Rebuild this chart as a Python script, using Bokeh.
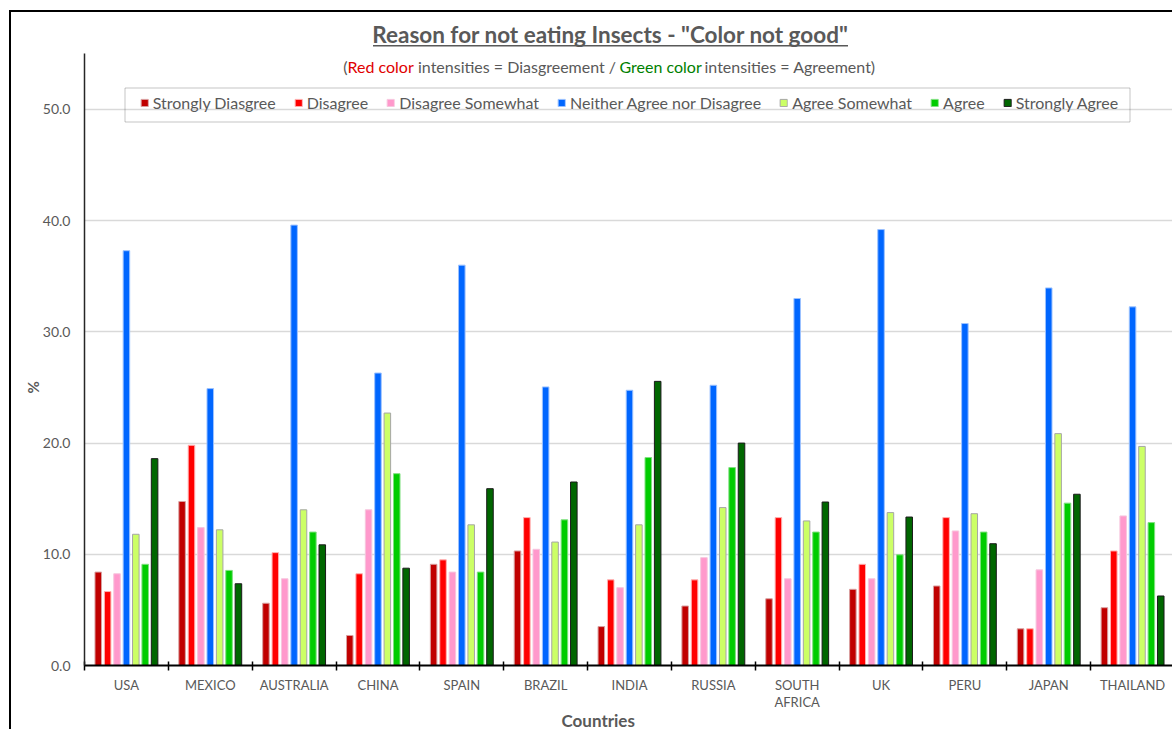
from bokeh.plotting import figure
from bokeh.models import (ColumnDataSource, Range1d, FixedTicker, NumeralTickFormatter,
                          Legend, LegendItem, Label, BoxAnnotation, Title)
from bokeh.transform import dodge
from bokeh.embed import file_html
from bokeh.resources import INLINE

# ---- data (% of respondents) ----
countries = ["USA", "MEXICO", "AUSTRALIA", "CHINA", "SPAIN", "BRAZIL", "INDIA",
             "RUSSIA", "SOUTH AFRICA", "UK", "PERU", "JAPAN", "THAILAND"]
responses = ["Strongly Diasgree", "Disagree", "Disagree Somewhat",
             "Neither Agree nor Disagree", "Agree Somewhat", "Agree", "Strongly Agree"]

strongly_disagree = [8.4, 14.75, 5.6, 2.7, 9.1, 10.3, 3.5, 5.35, 6.0, 6.85, 7.15, 3.3, 5.2]
disagree = [6.65, 19.8, 10.15, 8.25, 9.5, 13.3, 7.7, 7.7, 13.3, 9.1, 13.3, 3.3, 10.3]
disagree_somewhat = [8.25, 12.4, 7.8, 14.0, 8.4, 10.45, 7.0, 9.7, 7.8, 7.8, 12.1, 8.6, 13.45]
neither = [37.3, 24.9, 39.6, 26.3, 36.0, 25.05, 24.75, 25.2, 33.0, 39.2, 30.75, 33.95, 32.25]
agree_somewhat = [11.8, 12.2, 14.0, 22.7, 12.65, 11.1, 12.65, 14.2, 13.0, 13.75, 13.65, 20.85, 19.7]
agree = [9.1, 8.55, 12.0, 17.25, 8.4, 13.1, 18.7, 17.8, 12.0, 9.95, 12.0, 14.6, 12.85]
strongly_agree = [18.6, 7.35, 10.85, 8.75, 15.9, 16.5, 25.55, 20.0, 14.7, 13.35, 10.95, 15.4, 6.25]

y_ticks = [0, 10, 20, 30, 40, 50]
axis_top = 55.0       # value axis line stops here
range_top = 58.0      # room above it for the heading inside the frame

series = [strongly_disagree, disagree, disagree_somewhat, neither,
          agree_somewhat, agree, strongly_agree]
fill_colors = ["#C00000", "#FF0000", "#FF99CC", "#0066FF", "#CCFF66", "#00CC00", "#006600"]
line_colors = ["#D9A0A0", "#FFB0B0", "#F7C6DE", "#9CC2FF", "#A6A6A6", "#7FE07F", "#1A1A1A"]

FONT = "Lato"
GREY = "#595959"

# ---- source: one numeric slot per country, bars dodged inside the slot ----
data = {"x": [i + 0.5 for i in range(len(countries))]}
keys = [f"s{k}" for k in range(len(series))]
for key, vals in zip(keys, series):
    data[key] = vals
source = ColumnDataSource(data)

p = figure(width=1163, height=719, output_backend="svg", toolbar_location=None,
           x_range=Range1d(0, len(countries)), y_range=Range1d(0, range_top),
           min_border_left=73, min_border_right=0, min_border_top=8,
           min_border_bottom=66, title=None)
p.outline_line_color = None
p.background_fill_color = "white"
p.border_fill_color = "white"
# chart-area border (top and left edges)
p.styles = {"margin-left": "9px", "margin-top": "10px",
            "border-left": "2px solid #000", "border-top": "2px solid #000"}

pitch = 0.112
bar_w = 0.078
items = []
for k, key in enumerate(keys):
    r = p.vbar(x=dodge("x", (k - 3) * pitch, range=p.x_range), top=key, width=bar_w,
               bottom=0, source=source, fill_color=fill_colors[k],
               line_color=line_colors[k], line_width=1)
    items.append(LegendItem(label=responses[k], renderers=[r]))

# ---- axes ----
xa = p.xaxis[0]
xa.ticker = FixedTicker(ticks=data["x"], minor_ticks=list(range(len(countries) + 1)))
xa.major_label_overrides = {x: (c if c != "SOUTH AFRICA" else "SOUTH\nAFRICA")
                            for x, c in zip(data["x"], countries)}
xa.major_tick_line_color = None
xa.major_tick_in = 0
xa.major_tick_out = 0
xa.minor_tick_line_color = "black"
xa.minor_tick_line_width = 1.5
xa.minor_tick_in = 4
xa.minor_tick_out = 5
xa.axis_line_color = "black"
xa.axis_line_width = 2
xa.major_label_text_font = FONT
xa.major_label_text_font_size = "13px"
xa.major_label_text_line_height = 1.1
xa.major_label_text_color = GREY
xa.major_label_standoff = 6

ya = p.yaxis[0]
ya.ticker = FixedTicker(ticks=y_ticks)
ya.bounds = (0, axis_top)
ya.formatter = NumeralTickFormatter(format="0.0")
ya.major_tick_line_color = None
ya.major_tick_in = 0
ya.major_tick_out = 0
ya.minor_tick_line_color = None
ya.axis_line_color = "#262626"
ya.axis_line_width = 1.5
ya.major_label_text_font = FONT
ya.major_label_text_font_size = "14px"
ya.major_label_text_color = GREY
ya.major_label_standoff = 14

p.xgrid.grid_line_color = None
p.ygrid.ticker = FixedTicker(ticks=y_ticks[1:])
p.ygrid.grid_line_color = "#D9D9D9"
p.ygrid.grid_line_width = 1.5

# ---- axis titles ----
p.add_layout(Title(text="%", align="left", offset=272, standoff=-5, text_font=FONT,
                   text_font_style="bold", text_font_size="15px", text_color=GREY), "left")
p.add_layout(Title(text="Countries", align="left", offset=477, standoff=-8,
                   vertical_align="top", text_font=FONT, text_font_style="bold",
                   text_font_size="17px", text_color=GREY), "below")

# ---- legend ----
legend = Legend(items=items, orientation="horizontal", location="top_center",
                border_line_color=None, background_fill_alpha=0,
                label_text_font=FONT, label_text_font_size="16px",
                label_text_color=GREY, glyph_width=9, glyph_height=9,
                label_height=16, label_standoff=4, spacing=18, padding=0, margin=73)
p.add_layout(legend)
p.add_layout(BoxAnnotation(left=111.5, right=1116.5, top=73.5, bottom=107.5,
                           left_units="canvas", right_units="canvas",
                           top_units="canvas", bottom_units="canvas",
                           fill_alpha=0, line_color="#404040", line_width=1))

# ---- heading ----
p.add_layout(Label(x=597, y=19.5, x_units="canvas", y_units="canvas",
                   text='Reason for not eating Insects - "Color not good"',
                   text_align="center", text_baseline="middle", text_font=FONT,
                   text_font_style="bold", text_font_size="22.5px", text_color=GREY))
p.add_layout(BoxAnnotation(left=359.5, right=834.5, top=30.5, bottom=32,
                           left_units="canvas", right_units="canvas",
                           top_units="canvas", bottom_units="canvas",
                           fill_color=GREY, fill_alpha=1, line_color=None))

subtitle = [("(", 329.7, GREY), ("Red color", 334, "#E00000"),
            ("intensities = Diasgreement /", 404.5, GREY),
            ("Green color", 606, "#008000"), ("intensities = Agreement)", 691, GREY)]
for txt, x0, col in subtitle:
    p.add_layout(Label(x=x0, y=51.5, x_units="canvas", y_units="canvas", text=txt,
                       text_align="left", text_baseline="middle", text_font=FONT,
                       text_font_size="16px", text_color=col))

open("out.html", "w").write(file_html(p, INLINE))
